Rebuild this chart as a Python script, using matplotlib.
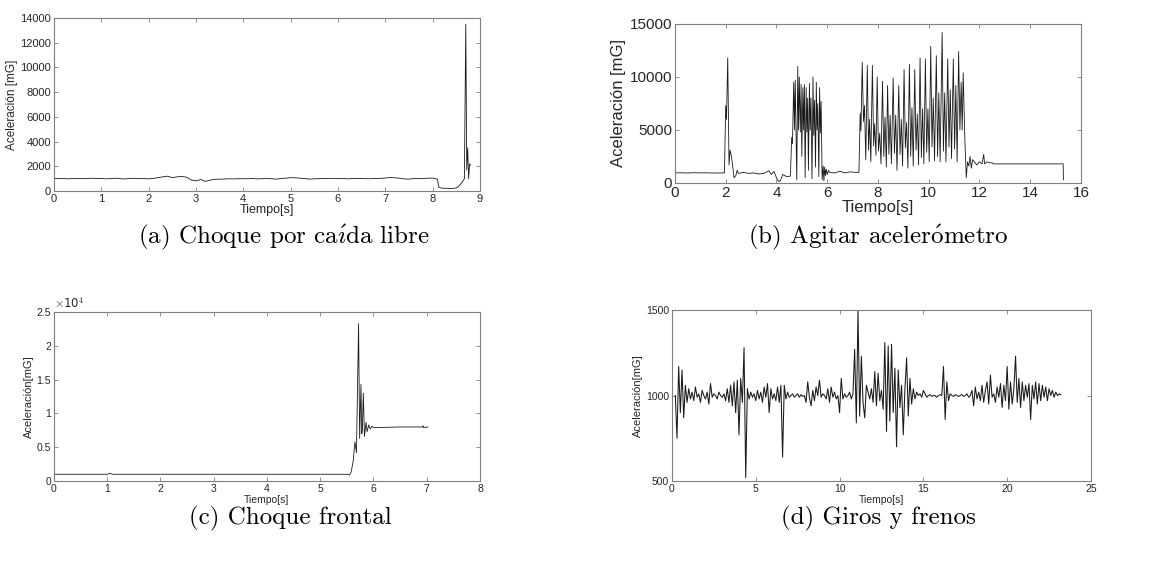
import numpy as np
import matplotlib
matplotlib.use('Agg')
import matplotlib.pyplot as plt
from matplotlib.ticker import FuncFormatter

plt.rcParams['font.family'] = ['Liberation Sans', 'DejaVu Sans']
plt.rcParams['mathtext.fontset'] = 'cm'

# (a) Choque por caida libre: baseline sampled every 0.1 s, then the impact
a_dt = 0.1
a_base = [1020, 1000, 1010, 990, 1010, 1000, 1020, 1000, 1040, 1010,
          1020, 990, 1000, 1040, 1000, 980, 1010, 1030, 1000, 1010,
          990, 1020, 1080, 1150, 1200, 1080, 1150, 1180, 1120, 900,
          820, 930, 780, 880, 950, 960, 970, 990, 980, 1000,
          990, 1000, 1010, 980, 1000, 1010, 990, 960, 1020, 1040,
          1080, 1070, 1040, 1010, 960, 990, 1000, 1020, 1000, 1030,
          1000, 1010, 990, 1010, 1020, 1010, 1000, 1000, 1010, 1030,
          1050, 1090, 1070, 1040, 980, 960, 1010, 1000, 1020, 1040,
          1050, 960]
a_t_tail = [8.13, 8.2, 8.3, 8.4, 8.5, 8.55, 8.62, 8.67, 8.7, 8.72, 8.74, 8.76, 8.78, 8.8]
a_v_tail = [300, 230, 220, 200, 250, 380, 700, 1000, 13500, 1700, 3500, 1000, 2200, 2100]

# (b) Agitar acelerometro
b_t = [0, 0.25, 0.5, 0.75, 1.0, 1.25, 1.5, 1.75, 1.95,
       2.0, 2.03, 2.08, 2.13, 2.17, 2.22, 2.28, 2.33, 2.4, 2.45, 2.5, 2.7, 2.9, 3.1, 3.3, 3.5,
       3.7, 3.8, 3.9, 4.0, 4.08, 4.15, 4.25, 4.4, 4.55,
       4.6, 4.63, 4.68, 4.71, 4.74, 4.77, 4.8, 4.84, 4.87, 4.9, 4.94, 4.97, 5.0, 5.04, 5.07,
       5.1, 5.13, 5.17, 5.2, 5.23, 5.26, 5.3, 5.33, 5.36, 5.4, 5.44, 5.47, 5.5, 5.54, 5.57,
       5.6, 5.63, 5.67, 5.7, 5.73, 5.76, 5.8, 5.84, 5.87, 5.9, 5.93, 5.96, 6.0, 6.05, 6.1,
       6.3, 6.5, 6.7, 6.9, 7.1, 7.25,
       7.3, 7.33, 7.38, 7.43, 7.47, 7.52, 7.58, 7.63, 7.67, 7.72, 7.78, 7.83, 7.87, 7.92,
       7.97, 8.02, 8.07, 8.12, 8.18, 8.23, 8.28, 8.33, 8.38, 8.43, 8.48, 8.53, 8.6, 8.65,
       8.7, 8.75, 8.82, 8.87, 8.92, 8.97, 9.03, 9.08, 9.13, 9.18, 9.24, 9.29, 9.34, 9.39,
       9.45, 9.5, 9.55, 9.6, 9.66, 9.71, 9.76, 9.81, 9.87, 9.92, 9.97, 10.02, 10.08, 10.13,
       10.18, 10.23, 10.3, 10.35, 10.4, 10.45, 10.53, 10.58, 10.63, 10.68, 10.75, 10.8,
       10.85, 10.9, 10.97, 11.02, 11.07, 11.12, 11.18, 11.23, 11.28, 11.32, 11.36, 11.42,
       11.48, 11.53, 11.58, 11.63, 11.68, 11.73, 11.8, 11.9, 12.0, 12.1, 12.17, 12.2,
       12.3, 12.4, 12.5, 12.55, 15.3, 15.31]
b_v = [950, 960, 940, 970, 950, 960, 940, 950, 950,
       7300, 6000, 11800, 1700, 3100, 2600, 1500, 500, 700, 1200, 900, 1000, 900, 950, 850, 900,
       1150, 800, 1100, 500, 150, 200, 800, 600, 650,
       4300, 3700, 9500, 5000, 9700, 4700, 300, 11000, 5000, 10000, 4800, 9300, 2500, 9000, 5000,
       9300, 500, 9000, 4800, 8000, 1200, 9400, 5000, 8000, 400, 10000, 4500, 7800, 1500, 9500,
       5000, 7500, 600, 9000, 4700, 7700, 300, 1600, 200, 1500, 700, 1300, 800, 1200, 1000,
       950, 1100, 950, 1050, 1000, 1000,
       6600, 4900, 11400, 5800, 7300, 2200, 11100, 3100, 6000, 2000, 11100, 3500, 5600, 2600,
       10000, 3000, 4700, 1800, 9600, 2500, 6200, 1500, 9200, 2700, 6400, 1800, 9900, 2800,
       6400, 1200, 9200, 2700, 6000, 1600, 10700, 3300, 5700, 1400, 11200, 2500, 7100, 1600,
       10700, 3100, 6500, 1700, 11800, 2400, 7000, 1800, 11700, 2900, 7000, 2000, 12900, 3400,
       8000, 2100, 12000, 2500, 8500, 2000, 14200, 3000, 8500, 2000, 11700, 3400,
       8800, 2300, 11700, 3200, 9200, 2000, 12400, 5000, 9500, 5000, 10400, 4500,
       500, 2000, 1600, 2500, 1400, 2200, 2000, 1700, 2000, 1800, 2700, 1800,
       2000, 1900, 1900, 1800, 1800, 300]

# (c) Choque frontal
c_t = [0, 1.0, 1.05, 1.1, 5.5, 5.55, 5.58, 5.62, 5.65, 5.68, 5.72, 5.74, 5.765, 5.78, 5.79,
       5.81, 5.83, 5.86, 5.88, 5.91, 5.94, 5.97, 6.0, 6.5, 6.92, 6.93, 6.94, 7.02]
c_v = [1000, 1000, 1150, 1000, 1000, 900, 1300, 3000, 5800, 4200, 23300, 6300, 14300, 7000, 7600,
       13000, 6600, 8700, 7300, 8300, 7700, 8100, 7900, 8000, 8000, 8200, 7900, 8000]

# (d) Giros y frenos: sampled every 0.1 s from 0.2 s
d_t0 = 0.2
d_dt = 0.1
d_v = [1000, 750, 1170, 900, 1150, 870, 1060, 960, 1040, 980,
       1020, 970, 1050, 990, 1010, 960, 1030, 1000, 980, 1020,
       950, 1070, 990, 1010, 1000, 980, 1020, 1000, 990, 1010,
       970, 1040, 960, 1060, 940, 1080, 900, 1090, 770, 1100,
       960, 1280, 520, 1040, 980, 1020, 990, 1010, 970, 1030,
       980, 1020, 960, 1050, 990, 1070, 900, 1040, 980, 1010,
       970, 1050, 960, 1060, 640, 1060, 980, 1020, 990, 1000,
       1010, 990, 1000, 1010, 990, 1005, 995, 1000, 960, 1080,
       990, 940, 1030, 970, 1050, 1000, 1090, 990, 1010, 1000,
       980, 1040, 960, 1050, 990, 1020, 980, 1000, 900, 1100,
       980, 1010, 990, 1000, 1020, 980, 1010, 1270, 840, 1500,
       880, 1230, 960, 870, 1060, 1020, 980, 1040, 960, 1140,
       940, 1130, 970, 1030, 920, 1310, 790, 1290, 850, 1300,
       900, 1160, 700, 1150, 930, 1060, 770, 1040, 1220, 880,
       1100, 950, 1040, 980, 1020, 1000, 1010, 990, 1030, 1010,
       990, 1000, 1005, 995, 1000, 1000, 990, 1000, 1005, 1000,
       1170, 860, 1080, 970, 1010, 1000, 995, 1005, 1000, 995,
       1000, 1005, 995, 1000, 1010, 990, 1000, 1030, 940, 1050,
       980, 1020, 970, 1060, 960, 1030, 1080, 950, 1120, 990,
       1010, 960, 1050, 990, 1070, 930, 1060, 970, 1170, 920,
       1080, 950, 1040, 1230, 960, 1100, 930, 1080, 970, 1060,
       990, 1070, 860, 1060, 980, 1080, 950, 1070, 970, 1060,
       990, 1050, 970, 1040, 1000, 1030, 990, 1020, 1000, 1010, 1005]

captions = [r'(a) Choque por ca$\mathrm{\acute{\imath}}$da libre',
            r'(b) Agitar aceler$\mathrm{\acute{o}}$metro',
            '(c) Choque frontal',
            '(d) Giros y frenos']

line_col = '#1a1a1a'
spine_col = '#7f7f7f'
text_col = '#262626'


def style(ax, fs):
    for s in ax.spines.values():
        s.set_color(spine_col)
        s.set_linewidth(0.8)
    ax.tick_params(direction='in', top=True, right=True, length=3, width=0.6,
                   colors=spine_col, labelcolor=text_col, labelsize=fs, pad=2)


fig = plt.figure(figsize=(11.53, 5.63), dpi=100)

# (a)
ax = fig.add_axes([0.0468, 0.6607, 0.3695, 0.3073])
t_a = [round(i * a_dt, 2) for i in range(len(a_base))] + a_t_tail
ax.plot(t_a, a_base + a_v_tail, color=line_col, lw=0.6)
ax.set_xlim(0, 9)
ax.set_ylim(0, 14000)
ax.set_xticks(range(0, 10))
ax.set_yticks(range(0, 14001, 2000))
style(ax, 8)
ax.set_xlabel('Tiempo[s]', fontsize=9, color=text_col, labelpad=0)
ax.set_ylabel('Aceleración [mG]', fontsize=8.5, color=text_col, labelpad=2)

# (b)
ax = fig.add_axes([0.5854, 0.675, 0.3521, 0.2824])
ax.plot(b_t, b_v, color=line_col, lw=0.6)
ax.set_xlim(0, 16)
ax.set_ylim(0, 15000)
ax.set_xticks(range(0, 17, 2))
ax.set_yticks([0, 5000, 10000, 15000])
style(ax, 11)
ax.set_xlabel('Tiempo[s]', fontsize=12, color=text_col, labelpad=0)
ax.set_ylabel('Aceleración [mG]', fontsize=12, color=text_col, labelpad=3)

# (c)
ax = fig.add_axes([0.0468, 0.1456, 0.3695, 0.300])
ax.plot(c_t, c_v, color=line_col, lw=0.6)
ax.set_xlim(0, 8)
ax.set_ylim(0, 25000)
ax.set_xticks(range(0, 9))
ax.set_yticks([0, 5000, 10000, 15000, 20000, 25000])
ax.yaxis.set_major_formatter(FuncFormatter(lambda v, p: '%g' % (v / 1e4)))
style(ax, 7.5)
ax.text(0.0, 1.01, r'$\times$10$^4$', transform=ax.transAxes, fontsize=8.5,
        color=text_col, ha='left', va='bottom', family='DejaVu Sans')
ax.set_xlabel('Tiempo[s]', fontsize=7.5, color=text_col, labelpad=1)
ax.set_ylabel('Aceleración[mG]', fontsize=8, color=text_col, labelpad=2)

# (d)
ax = fig.add_axes([0.5828, 0.1456, 0.3634, 0.3037])
t_d = [round(d_t0 + i * d_dt, 2) for i in range(len(d_v))]
ax.plot(t_d, d_v, color=line_col, lw=0.75)
ax.set_xlim(0, 25)
ax.set_ylim(500, 1500)
ax.set_xticks(range(0, 26, 5))
ax.set_yticks([500, 1000, 1500])
style(ax, 7.5)
ax.set_xlabel('Tiempo[s]', fontsize=7.5, color=text_col, labelpad=1)
ax.set_ylabel('Aceleración[mG]', fontsize=8, color=text_col, labelpad=2)

# captions
cap_pos = [(0.246, 1 - 237 / 563), (0.762, 1 - 237 / 563),
           (0.2515, 1 - 518 / 563), (0.762, 1 - 518 / 563)]
for (x, y), txt in zip(cap_pos, captions):
    fig.text(x, y, txt, ha='center', va='center', fontsize=18, family='cmr10')

fig.savefig('out.png', dpi=100)
